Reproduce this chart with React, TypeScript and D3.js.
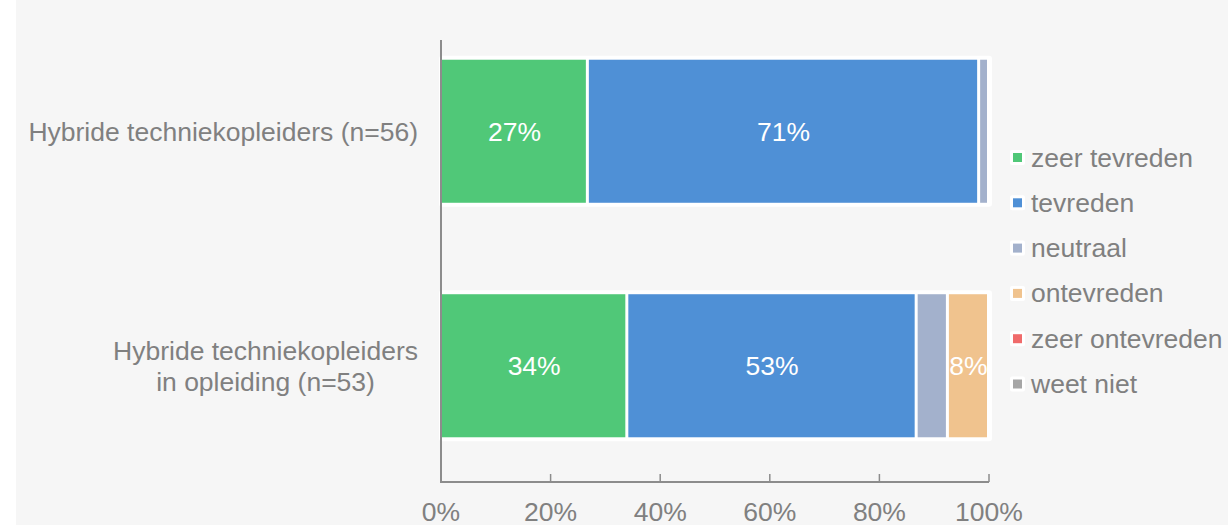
import React from "react";
import * as d3 from "d3";

const categories = ["Hybride techniekopleiders (n=56)", "Hybride techniekopleiders\nin opleiding (n=53)"];
const seriesNames = ["zeer tevreden", "tevreden", "neutraal", "ontevreden", "zeer ontevreden", "weet niet"];
const seriesColors = ["#50c878", "#4f90d6", "#a3b1cc", "#f0c38e", "#f06b6b", "#a6a6a6"];
// values per category (fractions)
const zeerTevreden = [0.268, 0.34];
const tevreden = [0.714, 0.528];
const neutraal = [0.018, 0.057];
const ontevreden = [0, 0.075];
const zeerOntevreden = [0, 0];
const weetNiet = [0, 0];
const tickValues = [0, 0.2, 0.4, 0.6, 0.8, 1.0];

const W = 1228;
const H = 525;
const FONT = "'Liberation Sans', Arial, sans-serif";
const TEXT = "#808080";
const FS = 26.5;

function measure(s: string): number {
  const c = document.createElement("canvas").getContext("2d");
  if (!c) return s.length * FS * 0.5;
  c.font = `${FS}px 'Liberation Sans', Arial, sans-serif`;
  return c.measureText(s).width;
}

export default function App() {
  const x = d3.scaleLinear().domain([0, 1]).range([441, 989]);
  const y = d3.scaleBand<number>().domain([0, 1]).range([14, 483]).paddingInner(0.39).paddingOuter(0.195);
  const seriesVals = [zeerTevreden, tevreden, neutraal, ontevreden, zeerOntevreden, weetNiet];
  const rows = categories.map((c, i) => {
    const o: any = { cat: i };
    seriesNames.forEach((s, j) => (o[s] = seriesVals[j][i]));
    return o;
  });
  const stacked = d3.stack<any>().keys(seriesNames)(rows);
  const bw = y.bandwidth();

  return (
    <svg width={W} height={H} style={{ position: "absolute", left: 0, top: 0 }} fontFamily={FONT}>
      <rect x={0} y={0} width={W} height={H} fill="#ffffff" />
      <rect x={16} y={0} width={W - 16} height={H} fill="#f6f6f6" />
      {/* white backdrops behind bars */}
      {categories.map((c, i) => {
        const total = d3.sum(seriesVals, (v) => v[i]);
        return (
          <rect key={"bg" + i} x={x(0) - 2} y={(y(i) as number) - 4} width={x(total) - x(0) + 5} height={bw + 8} fill="#ffffff" rx={3} />
        );
      })}
      {stacked.map((s, j) =>
        s.map((d, i) => {
          const w = x(d[1]) - x(d[0]);
          if (w <= 0) return null;
          return (
            <rect key={j + "-" + i} x={x(d[0]) + 1} y={y(i) as number} width={Math.max(0, w - 3)} height={bw} fill={seriesColors[j]} />
          );
        })
      )}
      {stacked.map((s, j) =>
        s.map((d, i) => {
          const v = d[1] - d[0];
          if (v < 0.07) return null;
          return (
            <text key={"l" + j + "-" + i} x={(x(d[0]) + x(d[1])) / 2} y={(y(i) as number) + bw / 2} dy="0.36em" textAnchor="middle" fill="#ffffff" fontSize={FS}>
              {d3.format(".0%")(v)}
            </text>
          );
        })
      )}
      {/* axes */}
      <line x1={441} x2={441} y1={40} y2={483} stroke="#8c8c8c" strokeWidth={2} />
      <line x1={440} x2={989} y1={482} y2={482} stroke="#8c8c8c" strokeWidth={2} />
      {tickValues.map((t) => (
        <g key={"t" + t}>
          {t > 0 && <line x1={x(t)} x2={x(t)} y1={474} y2={482} stroke="#8c8c8c" strokeWidth={1.5} />}
          <text x={x(t)} y={521} textAnchor="middle" fill={TEXT} fontSize={FS}>
            {d3.format(".0%")(t)}
          </text>
        </g>
      ))}
      {categories.map((c, i) => {
        const lines = c.split("\n");
        const cy = (y(i) as number) + bw / 2;
        const lh = 31;
        const maxW = d3.max(lines, measure) || 0;
        const cx = 418 - maxW / 2;
        return (
          <text key={"c" + i} x={cx} textAnchor="middle" fill={TEXT} fontSize={FS}>
            {lines.map((ln, k) => (
              <tspan key={k} x={cx} y={cy + (k - (lines.length - 1) / 2) * lh} dy="0.38em">
                {ln}
              </tspan>
            ))}
          </text>
        );
      })}
      {/* legend */}
      {seriesNames.map((s, j) => {
        const ly = 157 + j * 45.3;
        return (
          <g key={"lg" + j}>
            <rect x={1010} y={ly - 7} width={15} height={15} fill="#ffffff" rx={2} />
            <rect x={1013} y={ly - 4} width={9} height={9} fill={seriesColors[j]} />
            <text x={1031} y={ly} dy="0.36em" fill={TEXT} fontSize={FS}>
              {s}
            </text>
          </g>
        );
      })}
    </svg>
  );
}
